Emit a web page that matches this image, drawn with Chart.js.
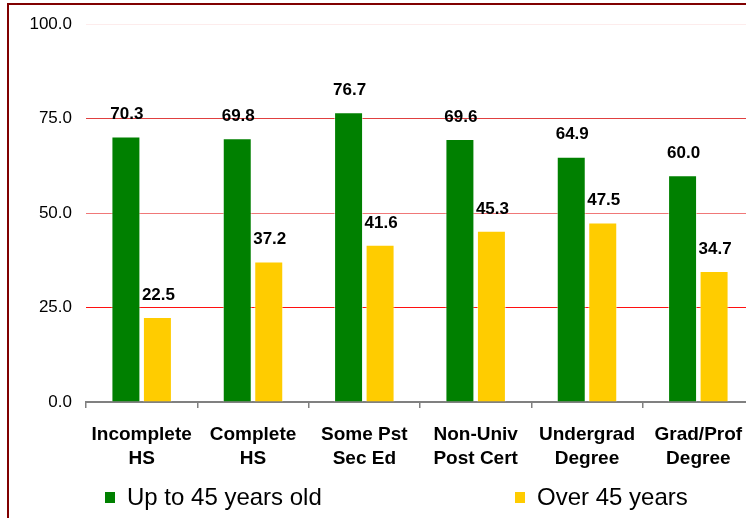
<!DOCTYPE html>
<html>
<head>
<meta charset="utf-8">
<script src="https://cdn.jsdelivr.net/npm/chart.js@4/dist/chart.umd.min.js"></script>
<style>
  html, body { margin: 0; padding: 0; overflow: hidden; background: #ffffff; }
  #wrap { position: relative; width: 760px; height: 518px; }
  #frame { position: absolute; left: 7px; top: 3px; width: 800px; height: 600px;
           border-left: 2.5px solid #800000; border-top: 2.5px solid #800000; pointer-events: none; }
</style>
</head>
<body>
<div id="wrap">
  <canvas id="c"></canvas>
  <div id="frame"></div>
</div>
<script>
// ---- data ----
const categories = [
  ['Incomplete', 'HS'],
  ['Complete', 'HS'],
  ['Some Pst', 'Sec Ed'],
  ['Non-Univ', 'Post Cert'],
  ['Undergrad', 'Degree'],
  ['Grad/Prof', 'Degree']
];
const seriesNames = ['Up to 45 years old', 'Over 45 years'];
const upTo45 = [70.3, 69.8, 76.7, 69.6, 64.9, 60.0];
const over45 = [22.5, 37.2, 41.6, 45.3, 47.5, 34.7];
const yTicks = [0, 25, 50, 75, 100];

// ---- styles ----
const FONT = '"Liberation Sans", Arial, sans-serif';
const GREEN = '#008000';
const YELLOW = '#FFCC00';
const gridColors = { 25: '#ff1010', 50: '#f07878', 75: '#e04040', 100: '#fdecec' };

const valueLabels = {
  id: 'valueLabels',
  afterDatasetsDraw(chart) {
    const ctx = chart.ctx;
    ctx.save();
    ctx.font = 'bold 17px ' + FONT;
    ctx.fillStyle = '#000';
    ctx.textAlign = 'center';
    ctx.textBaseline = 'middle';
    chart.data.datasets.forEach((ds, di) => {
      chart.getDatasetMeta(di).data.forEach((bar, i) => {
        ctx.fillText(ds.data[i].toFixed(1), bar.x + 1, bar.y - 22);
      });
    });
    ctx.restore();
  }
};

const customLegend = {
  id: 'customLegend',
  afterDraw(chart) {
    const ctx = chart.ctx;
    const xs = [105, 515];
    const y = 497;
    ctx.save();
    ctx.font = '24px ' + FONT;
    ctx.textBaseline = 'middle';
    ctx.textAlign = 'left';
    chart.data.datasets.forEach((ds, i) => {
      ctx.fillStyle = ds.backgroundColor;
      ctx.fillRect(xs[i], y - 5, 10, 11);
      ctx.fillStyle = '#000';
      ctx.fillText(ds.label, xs[i] + 22, y + 1);
    });
    ctx.restore();
  }
};

new Chart(document.getElementById('c'), {
  type: 'bar',
  data: {
    labels: categories,
    datasets: [
      { label: seriesNames[0], data: upTo45, backgroundColor: GREEN,
        borderColor: 'rgba(255,255,255,0.55)', borderWidth: 1 },
      { label: seriesNames[1], data: over45, backgroundColor: YELLOW,
        borderColor: 'rgba(255,255,255,0.55)', borderWidth: 1 }
    ]
  },
  options: {
    responsive: true,
    maintainAspectRatio: false,
    animation: false,
    layout: { padding: { top: 20, right: 6, left: 0, bottom: 0 } },
    plugins: { legend: { display: false }, tooltip: { enabled: false } },
    datasets: { bar: { categoryPercentage: 0.566, barPercentage: 0.92 } },
    scales: {
      x: {
        afterFit(scale) { scale.height = 116; },
        grid: { offset: true, drawOnChartArea: false, drawTicks: true, tickLength: 6,
                color: '#808080', lineWidth: 1.5 },
        border: { display: true, color: '#808080', width: 2 },
        ticks: { color: '#000', padding: 15, maxRotation: 0, autoSkip: false,
                 font: { family: FONT, size: 19, weight: 'bold', lineHeight: 1.27 } }
      },
      y: {
        min: 0, max: 100,
        afterFit(scale) { scale.width = 86; },
        afterBuildTicks(scale) { scale.ticks = yTicks.map(v => ({ value: v })); },
        border: { display: false },
        grid: {
          drawTicks: false,
          color: (ctx) => gridColors[ctx.tick && ctx.tick.value] || 'rgba(0,0,0,0)',
          lineWidth: 1
        },
        ticks: { color: '#000', padding: 14,
                 font: { family: FONT, size: 17 },
                 callback: (v) => Number(v).toFixed(1) }
      }
    }
  },
  plugins: [valueLabels, customLegend]
});
</script>
</body>
</html>
